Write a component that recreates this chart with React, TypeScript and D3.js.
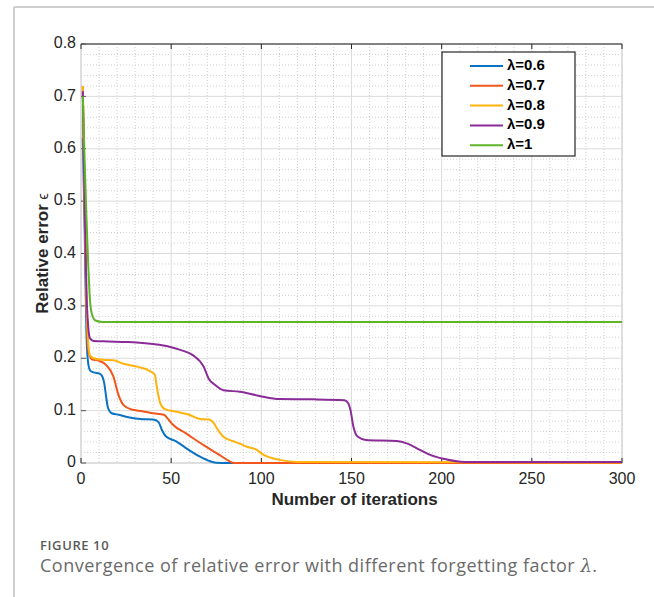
import React from "react";
import * as d3 from "d3";

const xTicks = [0, 50, 100, 150, 200, 250, 300];
const yTicks = [0, 0.1, 0.2, 0.3, 0.4, 0.5, 0.6, 0.7, 0.8];
const yTickLabels = ["0", "0.1", "0.2", "0.3", "0.4", "0.5", "0.6", "0.7", "0.8"];

const seriesNames = ["λ=0.6", "λ=0.7", "λ=0.8", "λ=0.9", "λ=1"];
const seriesColors = ["#0a72c2", "#f2561d", "#ffb30f", "#8a2b98", "#5db527"];

const iter06 = [1, 2, 3, 4, 5, 7, 10, 11.5, 13, 14, 15, 17, 21, 27, 33, 40, 43, 45, 47, 53, 58, 66, 71, 75, 80, 300];
const err06 = [0.62, 0.45, 0.25, 0.19, 0.177, 0.173, 0.171, 0.167, 0.15, 0.125, 0.105, 0.095, 0.092, 0.087, 0.084, 0.083, 0.078, 0.062, 0.051, 0.041, 0.029, 0.012, 0.004, 0.0005, 0, 0];

const iter07 = [1, 2, 3, 4, 6, 10, 14, 18, 20.5, 23.5, 28, 34, 40, 46, 48.5, 51, 58, 68, 77, 82, 85, 300];
const err07 = [0.72, 0.48, 0.3, 0.215, 0.198, 0.195, 0.187, 0.165, 0.133, 0.111, 0.102, 0.099, 0.095, 0.092, 0.083, 0.073, 0.057, 0.034, 0.015, 0.004, 0, 0];

const iter08 = [1, 2, 3, 4, 5, 7, 12, 18, 23, 31, 38, 41, 42, 44, 46.5, 53, 60, 66, 71, 73, 76, 79, 84, 88, 92, 97, 101, 110, 120, 300];
const err08 = [0.72, 0.5, 0.32, 0.23, 0.205, 0.2, 0.197, 0.196, 0.19, 0.184, 0.176, 0.168, 0.146, 0.114, 0.103, 0.098, 0.092, 0.084, 0.083, 0.079, 0.063, 0.05, 0.042, 0.037, 0.031, 0.026, 0.016, 0.006, 0.002, 0.001];

const iter09 = [1, 2, 3, 4, 5, 7, 15, 25, 31, 40, 49, 55, 62, 68, 71, 74, 79, 88, 99, 110, 129, 146, 148, 149.5, 151, 153.5, 158, 175, 181, 188, 194, 201, 213, 300];
const err09 = [0.71, 0.5, 0.33, 0.26, 0.238, 0.233, 0.232, 0.231, 0.23, 0.227, 0.222, 0.216, 0.206, 0.184, 0.16, 0.15, 0.139, 0.136, 0.128, 0.122, 0.1215, 0.12, 0.115, 0.1, 0.07, 0.05, 0.044, 0.042, 0.037, 0.025, 0.015, 0.008, 0.002, 0.002];

const iter10 = [1, 2, 3, 4, 5, 6, 8, 12, 300];
const err10 = [0.7, 0.58, 0.47, 0.38, 0.31, 0.285, 0.272, 0.269, 0.269];

const seriesIters = [iter06, iter07, iter08, iter09, iter10];
const seriesErrs = [err06, err07, err08, err09, err10];

const W = 654;
const H = 597;
const left = 81, right = 622, top = 44, bottom = 463;
const font = "'Liberation Sans', Arial, Helvetica, sans-serif";
const capFont = "'Open Sans', 'Noto Sans', sans-serif";

export default function App() {
  const x = d3.scaleLinear().domain([0, 300]).range([left, right]);
  const y = d3.scaleLinear().domain([0, 0.8]).range([bottom, top]);
  const xMinor = d3.range(0, 301, 10).filter((v) => v % 50 !== 0);
  const yMinor = d3.range(0, 81, 2).map((v) => v / 100).filter((v) => Math.round(v * 100) % 10 !== 0);

  const line = d3
    .line<[number, number]>()
    .x((d) => x(d[0]))
    .y((d) => y(d[1]))
    .curve(d3.curveMonotoneX);

  return (
    <svg width={W} height={H} style={{ position: "absolute", left: 0, top: 0, background: "#fff" }}>
      {/* card border */}
      <line x1={14} y1={7} x2={W} y2={7} stroke="#cfcfcf" strokeWidth={2} />
      <line x1={14} y1={7} x2={14} y2={H} stroke="#cfcfcf" strokeWidth={2} />

      {/* minor grid */}
      {xMinor.map((v) => (
        <line key={"xm" + v} x1={x(v)} x2={x(v)} y1={top} y2={bottom} stroke="#c4c4c4" strokeWidth={0.8} strokeDasharray="1,2" />
      ))}
      {yMinor.map((v) => (
        <line key={"ym" + v} x1={left} x2={right} y1={y(v)} y2={y(v)} stroke="#c4c4c4" strokeWidth={0.8} strokeDasharray="1,2" />
      ))}
      {/* major grid */}
      {xTicks.map((v) => (
        <line key={"xg" + v} x1={x(v)} x2={x(v)} y1={top} y2={bottom} stroke="#dcdcdc" strokeWidth={1} />
      ))}
      {yTicks.map((v) => (
        <line key={"yg" + v} x1={left} x2={right} y1={y(v)} y2={y(v)} stroke="#dcdcdc" strokeWidth={1} />
      ))}

      {/* box */}
      <rect x={left} y={top} width={right - left} height={bottom - top} fill="none" stroke="#d0d0d0" strokeWidth={1} />
      <line x1={left} x2={right} y1={top} y2={top} stroke="#262626" strokeWidth={1.2} />

      {/* ticks */}
      {xTicks.map((v) => (
        <g key={"xt" + v}>
          <line x1={x(v)} x2={x(v)} y1={bottom} y2={bottom - 5} stroke="#262626" strokeWidth={1} />
          <line x1={x(v)} x2={x(v)} y1={top} y2={top + 5} stroke="#262626" strokeWidth={1} />
        </g>
      ))}
      {yTicks.map((v) => (
        <line key={"yt" + v} x1={left} x2={left + 5} y1={y(v)} y2={y(v)} stroke="#555" strokeWidth={1} />
      ))}

      {/* series */}
      {seriesIters.map((its, i) => {
        const pts: [number, number][] = its.map((t, j) => [t, seriesErrs[i][j]]);
        return (
          <path key={"s" + i} d={line(pts) || ""} fill="none" stroke={seriesColors[i]} strokeWidth={2} strokeLinejoin="round" />
        );
      })}

      {/* tick labels */}
      {xTicks.map((v) => (
        <text key={"xl" + v} x={x(v)} y={480} fontSize={16} fontFamily={font} fill="#262626" textAnchor="middle" dominantBaseline="middle">
          {v}
        </text>
      ))}
      {yTicks.map((v, i) => (
        <text key={"yl" + v} x={76} y={y(v)} fontSize={16} fontFamily={font} fill="#262626" textAnchor="end" dominantBaseline="middle">
          {yTickLabels[i]}
        </text>
      ))}

      {/* axis titles */}
      <text x={(left + right) / 2 + 3} y={501} fontSize={17} fontWeight="bold" fontFamily={font} fill="#262626" textAnchor="middle" dominantBaseline="middle">
        Number of iterations
      </text>
      <text transform={`translate(44,${(top + bottom) / 2}) rotate(-90)`} fontSize={17} fontWeight="bold" fontFamily={font} fill="#262626" textAnchor="middle" dominantBaseline="middle">
        Relative error <tspan fontWeight="normal" fontSize={14}>ϵ</tspan>
      </text>

      {/* legend */}
      <rect x={442} y={52} width={133} height={104} fill="#fff" stroke="#262626" strokeWidth={1.2} />
      {seriesNames.map((name, i) => {
        const ly = 66 + i * 19.8;
        return (
          <g key={"lg" + i}>
            <line x1={470} x2={503} y1={ly} y2={ly} stroke={seriesColors[i]} strokeWidth={2} />
            <text x={507} y={ly} fontSize={15} fontWeight="bold" fontFamily={font} fill="#000" dominantBaseline="middle">
              {name}
            </text>
          </g>
        );
      })}

      {/* caption */}
      <text x={40} y={550} fontSize={13} letterSpacing={0.6} fontFamily={capFont} fontWeight="600" fill="#5a5a5a">
        FIGURE 10
      </text>
      <text x={40} y={572} fontSize={18} letterSpacing={0.5} fontFamily={capFont} fill="#6a6a6a">
        Convergence of relative error with different forgetting factor <tspan fontStyle="italic" fontFamily="'DejaVu Serif', serif">λ</tspan>.
      </text>
    </svg>
  );
}
